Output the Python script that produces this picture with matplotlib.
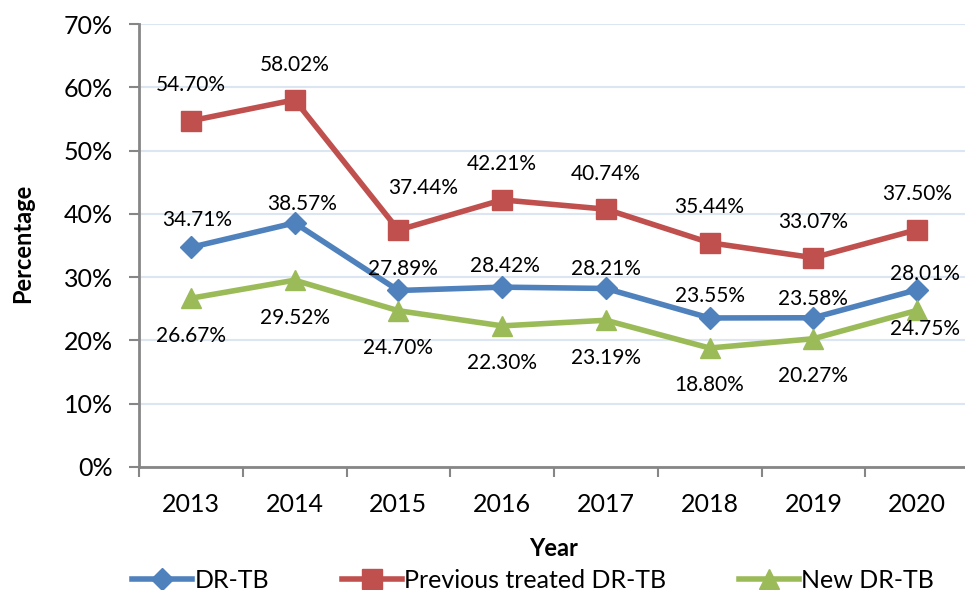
import matplotlib
matplotlib.use("Agg")
import matplotlib.pyplot as plt
from matplotlib.ticker import FixedLocator, FuncFormatter

plt.rcParams['font.family'] = ['Lato', 'DejaVu Sans']

years = ['2013', '2014', '2015', '2016', '2017', '2018', '2019', '2020']
dr_tb = [34.71, 38.57, 27.89, 28.42, 28.21, 23.55, 23.58, 28.01]
prev_dr_tb = [54.70, 58.02, 37.44, 42.21, 40.74, 35.44, 33.07, 37.50]
new_dr_tb = [26.67, 29.52, 24.70, 22.30, 23.19, 18.80, 20.27, 24.75]
y_ticks = [0, 10, 20, 30, 40, 50, 60, 70]

# label offsets in pixels (dx, dy up) relative to each marker
dr_off = [(6, 27), (7, 19), (5, 21), (3, 21), (0, 19), (0, 22), (0, 19), (8, 16)]
prev_off = [(0, 36), (0, 35), (25, 42), (0, 36), (0, 35), (0, 36), (0, 36), (0, 36)]
new_off = [(0, -38), (0, -38), (0, -37), (0, -37), (0, -38), (0, -37), (0, -37), (8, -19)]

blue = '#4F81BD'
red = '#C0504D'
green = '#9BBB59'
axis_grey = '#868686'
grid_col = '#DCE6F2'

fig = plt.figure(figsize=(9.65, 5.9), dpi=100)
ax = fig.add_axes([139/965, 1 - 467/590, 830/965, (467-24)/590])

x = list(range(len(years)))
ax.plot(x, dr_tb, color=blue, lw=4, marker='D', ms=11, label='DR-TB', zorder=3)
ax.plot(x, prev_dr_tb, color=red, lw=4, marker='s', ms=15, label='Previous treated DR-TB', zorder=3)
ax.plot(x, new_dr_tb, color=green, lw=4, marker='^', ms=15, label='New DR-TB', zorder=3)

px = 0.72  # pixels -> points at 100 dpi
for vals, offs in [(dr_tb, dr_off), (prev_dr_tb, prev_off), (new_dr_tb, new_off)]:
    for xi, v, (dx, dy) in zip(x, vals, offs):
        ax.annotate(f'{v:.2f}%', (xi, v), xytext=(dx * px, dy * px), textcoords='offset points',
                    ha='center', va='center', fontsize=15, zorder=4)

ax.set_xlim(-0.5, len(years) - 0.5)
ax.set_ylim(0, 70)
ax.set_yticks(y_ticks)
ax.yaxis.set_major_formatter(FuncFormatter(lambda v, p: f'{int(v)}%'))
ax.set_xticks(x)
ax.set_xticklabels(years)
ax.xaxis.set_minor_locator(FixedLocator([i - 0.5 for i in range(len(years) + 1)]))
ax.tick_params(axis='x', which='major', length=0, labelsize=18, pad=19)
ax.tick_params(axis='x', which='minor', length=7, width=1.5, color=axis_grey)
ax.tick_params(axis='y', which='major', length=7, width=1.5, color=axis_grey, labelsize=18, pad=12)

ax.grid(axis='y', color=grid_col, lw=1.5)
ax.set_axisbelow(True)
for s in ['top', 'right']:
    ax.spines[s].set_visible(False)
for s in ['left', 'bottom']:
    ax.spines[s].set_color(axis_grey)
    ax.spines[s].set_linewidth(2)

ax.set_ylabel('Percentage', fontsize=17, fontweight='bold')
ax.yaxis.set_label_coords(-105/830, 0.505)
ax.set_xlabel('Year', fontsize=17, fontweight='bold')
ax.xaxis.set_label_coords(0.5, -70/443)

fig.legend(loc='center', bbox_to_anchor=(533/965, 1 - 580/590), ncol=3, frameon=False,
           fontsize=18, handlelength=2.4, columnspacing=2.9, handletextpad=0.1,
           borderaxespad=0, borderpad=0)

fig.savefig('out.png', dpi=100)
